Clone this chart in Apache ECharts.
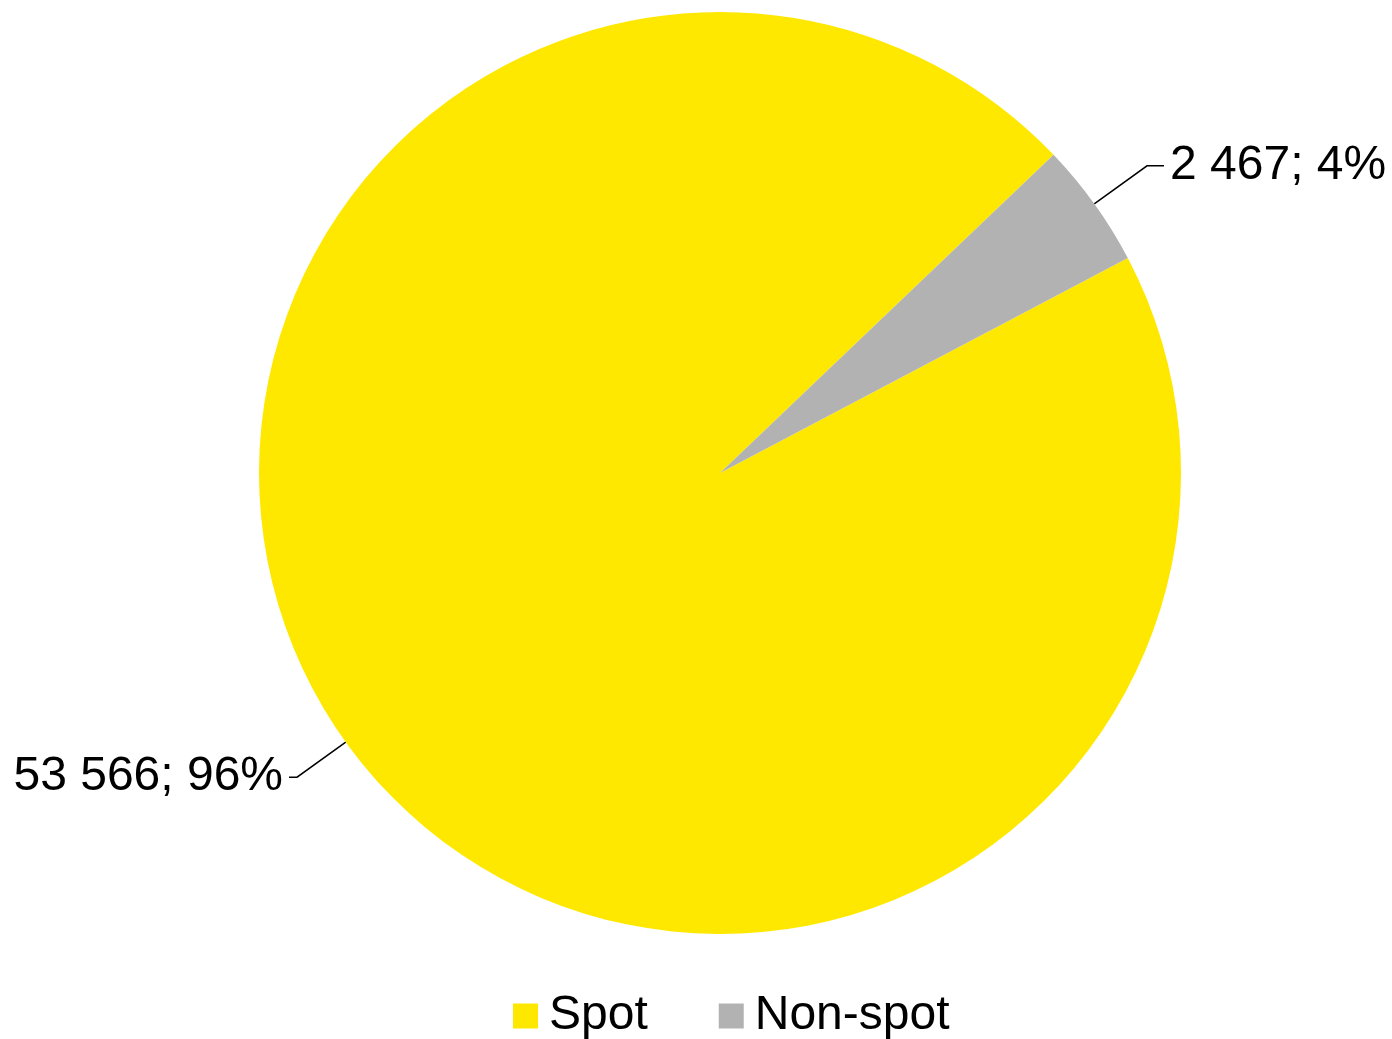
<!DOCTYPE html>
<html><head><meta charset="utf-8">
<script src="https://cdn.jsdelivr.net/npm/echarts@6/dist/echarts.min.js"></script>
<style>html,body{margin:0;padding:0;background:#fff}#c{width:1392px;height:1039px}</style>
</head><body><div id="c"></div>
<script>
const categories = ['Spot', 'Non-spot'];
const values = [53566, 2467];
const colors = ['#FFE800', '#B2B2B2'];

const fmt = n => String(n).replace(/\B(?=(\d{3})+(?!\d))/g, ' ');
const total = values.reduce((a, b) => a + b, 0);
const lineLens = [[60, 8], [65, 17]];

const chart = echarts.init(document.getElementById('c'));
chart.setOption({
  animation: false,
  textStyle: { fontFamily: 'Liberation Sans, Arial, sans-serif' },
  legend: {
    data: categories,
    left: 508, top: 987,
    itemWidth: 25, itemHeight: 25, itemGap: 71,
    icon: 'rect',
    textStyle: { fontSize: 48, color: '#000', padding: [0, 0, 0, 6] }
  },
  series: [{
    type: 'pie',
    center: [720, 473],
    radius: 461,
    startAngle: 27.8,
    clockwise: true,
    data: categories.map((c, i) => ({
      name: c, value: values[i],
      itemStyle: { color: colors[i] },
      labelLine: { length: lineLens[i][0], length2: lineLens[i][1] }
    })),
    label: {
      show: true,
      position: 'outside',
      fontSize: 48,
      color: '#000',
      overflow: 'none',
      edgeDistance: 0,
      formatter: p => fmt(p.value) + '; ' + Math.round(p.value / total * 100) + '%',
      distanceToLabelLine: 6
    },
    labelLine: { show: true, length: 65, length2: 13, lineStyle: { color: '#000', width: 1.5 } },
    emphasis: { disabled: true }
  }]
});
</script></body></html>
